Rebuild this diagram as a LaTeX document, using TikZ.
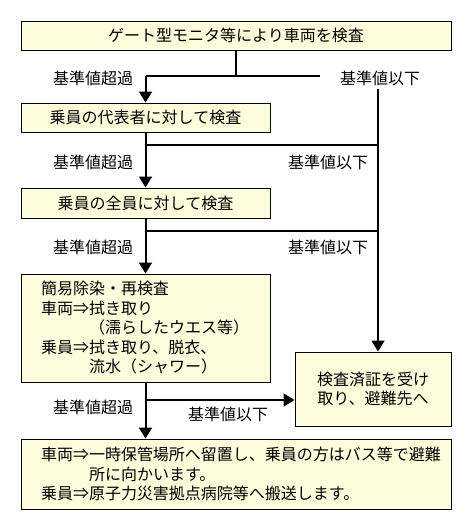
\documentclass[tikz,border=0pt]{standalone}
\usepackage{fontspec}
\setmainfont{Noto Sans CJK JP}
\usetikzlibrary{arrows.meta}
\definecolor{boxfill}{RGB}{255,252,220}
\tikzset{
  every picture/.style={x=1pt, y=-1pt, font=\fontsize{16}{19.5}\selectfont},
  box/.style={draw, line width=1pt, fill=boxfill, inner sep=0pt},
  leftbox/.style={box, align=left, inner xsep=20pt, text width=#1},
  conn/.style={line width=2pt},
  arr/.style={conn, -{Triangle[width=13pt,length=11pt]}},
  lbl/.style={inner sep=0pt}
}

\begin{document}
\begin{tikzpicture}
  \useasboundingbox (0,0) rectangle (471,530);

  \node[box, minimum width=430pt, minimum height=29pt] (gate) at (236,35.5) {ゲート型モニタ等により車両を検査};
  \node[box, minimum width=249pt, minimum height=29pt] (rep) at (145.5,117.5) {乗員の代表者に対して検査};
  \node[box, minimum width=249pt, minimum height=30pt] (all) at (145.5,203) {乗員の全員に対して検査};
  \node[leftbox=209pt, minimum height=108pt] (decon) at (145.5,328) {簡易除染・再検査\\車両⇒拭き取り\\\hspace*{3em}（濡らしたウエス等）\\乗員⇒拭き取り、脱衣、\\\hspace*{3em}流水（シャワー）};
  \node[box, align=center, minimum width=156pt, minimum height=74pt] (ok) at (373,389) {検査済証を受け\\取り、避難先へ};
  \node[leftbox=390pt, minimum height=70pt] (out) at (236,474) {車両⇒一時保管場所へ留置し、乗員の方はバス等で避難\\\hspace*{3em}所に向かいます。\\乗員⇒原子力災害拠点病院等へ搬送します。};

  \node[lbl] (over0) at (93,78) {基準値超過};
  \node[lbl] (under0) at (380,78) {基準値以下};
  \node[lbl] (over1) at (93,162) {基準値超過};
  \node[lbl] (under1) at (328,162) {基準値以下};
  \node[lbl] (over2) at (93,247) {基準値超過};
  \node[lbl] (under2) at (328,247) {基準値以下};
  \node[lbl] (over3) at (93,407) {基準値超過};
  \node[lbl] (under3) at (228,414) {基準値以下};

  \coordinate (j0) at (236,76);
  \coordinate (e0) at (320,76);
  \coordinate (r0) at (378,89);
  \coordinate (j1) at (145.5,145);
  \coordinate (j2) at (145.5,231);
  \coordinate (j3) at (145.5,400);

  \draw[conn] (gate.south) -- (j0);
  \draw[conn] (e0) -- (j0 -| rep.north);
  \draw[arr] (j0 -| rep.north) -- (rep.north);
  \draw[arr] (r0) -- (r0 |- ok.north);

  \draw[arr] (rep.south) -- (all.north);
  \draw[conn] (j1) -- (j1 -| r0);
  \draw[arr] (all.south) -- (decon.north);
  \draw[conn] (j2) -- (j2 -| r0);

  \draw[arr] (decon.south) -- (decon.south |- out.north);
  \draw[arr] (j3) -- (j3 -| ok.west);
\end{tikzpicture}
\end{document}
